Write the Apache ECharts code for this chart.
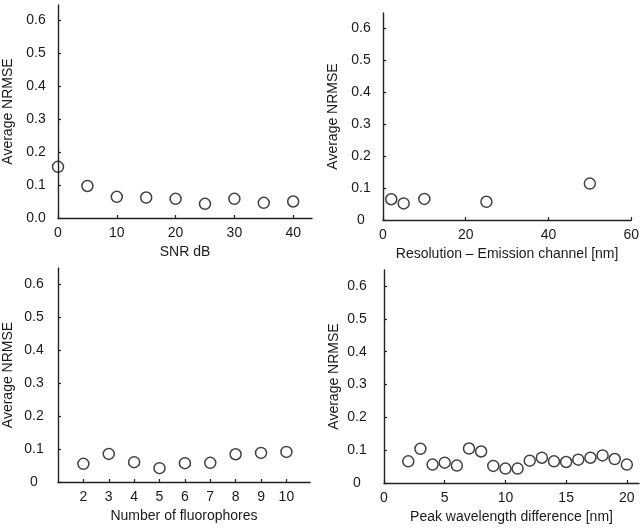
<!DOCTYPE html>
<html>
<head>
<meta charset="utf-8">
<script src="https://cdn.jsdelivr.net/npm/echarts@6/dist/echarts.min.js"></script>
<style>
  html, body { margin: 0; padding: 0; background: #fff; }
  #chart { width: 642px; height: 531px; }
</style>
</head>
<body>
<div id="chart"></div>
<script>
// y ticks shared by all panels
const yTicks = [0, 0.1, 0.2, 0.3, 0.4, 0.5, 0.6];

// top left: SNR
const snrX = [0, 5, 10, 15, 20, 25, 30, 35, 40];
const snrY = [0.155, 0.097, 0.064, 0.062, 0.058, 0.043, 0.058, 0.046, 0.050];
const snrTicks = [0, 10, 20, 30, 40];

// top right: resolution
const resX = [2, 5, 10, 25, 50];
const resY = [0.065, 0.052, 0.066, 0.057, 0.114];
const resTicks = [0, 20, 40, 60];

// bottom left: number of fluorophores
const fluoX = [2, 3, 4, 5, 6, 7, 8, 9, 10];
const fluoY = [0.055, 0.085, 0.060, 0.042, 0.057, 0.058, 0.084, 0.088, 0.091];
const fluoTicks = [2, 3, 4, 5, 6, 7, 8, 9, 10];

// bottom right: peak wavelength difference
const peakX = [2, 3, 4, 5, 6, 7, 8, 9, 10, 11, 12, 13, 14, 15, 16, 17, 18, 19, 20];
const peakY = [0.066, 0.104, 0.056, 0.062, 0.053, 0.105, 0.096, 0.052, 0.044, 0.044,
               0.068, 0.077, 0.066, 0.064, 0.071, 0.077, 0.084, 0.073, 0.056];
const peakTicks = [0, 5, 10, 15, 20];

const FONT = 'Liberation Sans';
const TXT = '#1a1a1a';
const LINE = '#222';

const zip = (xs, ys) => xs.map((x, i) => [x, ys[i]]);

// panel layout
const panels = [
  { grid: { left: 58, top: 5, width: 254, height: 213 }, xMin: 0, xMax: 43.2, xTicks: snrTicks,
    xName: 'SNR dB', yMax: 0.645, yMargin: 22, fixed0: true, data: zip(snrX, snrY) },
  { grid: { left: 383, top: 13, width: 249, height: 207 }, xMin: 0, xMax: 60, xTicks: resTicks,
    xName: 'Resolution \u2013 Emission channel [nm]', yMax: 0.648, yMargin: 22, fixed0: false, data: zip(resX, resY) },
  { grid: { left: 57, top: 268, width: 253, height: 214 }, xMin: 1, xMax: 10.93, xTicks: fluoTicks,
    xName: 'Number of fluorophores', yMax: 0.648, yMargin: 24, fixed0: false, data: zip(fluoX, fluoY) },
  { grid: { left: 384, top: 270, width: 255, height: 213 }, xMin: 0, xMax: 21, xTicks: peakTicks,
    xName: 'Peak wavelength difference [nm]', yMax: 0.649, yMargin: 27, fixed0: false, data: zip(peakX, peakY) }
];

const axisLine = { show: true, onZero: false, lineStyle: { color: LINE, width: 1.4 } };
const axisTick = (vals) => ({ show: true, inside: true, length: 3, customValues: vals, lineStyle: { color: LINE, width: 1.2 } });

const option = {
  animation: false,
  backgroundColor: '#fff',
  textStyle: { fontFamily: FONT },
  grid: panels.map(p => Object.assign({ containLabel: false }, p.grid)),
  xAxis: panels.map((p, i) => ({
    type: 'value', gridIndex: i, min: p.xMin, max: p.xMax,
    name: p.xName, nameLocation: 'middle', nameGap: 27,
    nameTextStyle: { fontFamily: FONT, fontSize: 14, color: TXT },
    axisLine: axisLine,
    axisTick: axisTick(p.xTicks),
    axisLabel: { customValues: p.xTicks, margin: 8, fontFamily: FONT, fontSize: 14, color: TXT },
    splitLine: { show: false }
  })),
  yAxis: panels.map((p, i) => ({
    type: 'value', gridIndex: i, min: 0, max: p.yMax,
    name: 'Average NRMSE', nameLocation: 'middle', nameRotate: 90, nameGap: 43,
    nameTextStyle: { fontFamily: FONT, fontSize: 14, color: TXT },
    axisLine: axisLine,
    axisTick: axisTick(yTicks),
    axisLabel: {
      customValues: yTicks, margin: p.yMargin, align: 'center',
      fontFamily: FONT, fontSize: 14, color: TXT,
      formatter: v => (v === 0 && !p.fixed0) ? '0' : v.toFixed(1)
    },
    splitLine: { show: false }
  })),
  series: panels.map((p, i) => ({
    type: 'scatter', xAxisIndex: i, yAxisIndex: i,
    symbol: 'circle', symbolSize: 11,
    itemStyle: { color: 'transparent', borderColor: '#111', borderWidth: 1.5 },
    data: p.data
  }))
};

const myChart = echarts.init(document.getElementById('chart'));
myChart.setOption(option);
</script>
</body>
</html>
